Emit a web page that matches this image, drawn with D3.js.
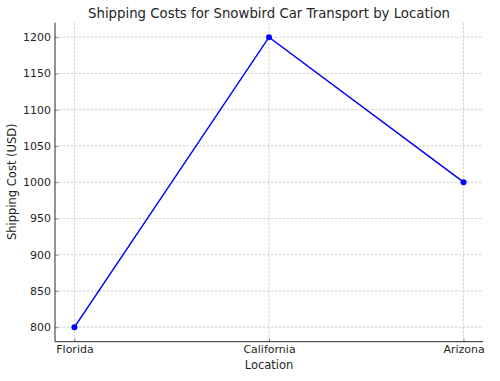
<!DOCTYPE html>
<html><head><meta charset="utf-8">
<script src="https://cdn.jsdelivr.net/npm/d3@7"></script>
<style>body{margin:0;background:#fff}svg{display:block}text{font-family:"DejaVu Sans",sans-serif;fill:#262626}</style>
</head><body><svg id="c" width="500" height="381"></svg>
<script>
const locations = ["Florida", "California", "Arizona"];
const costs = [800, 1200, 1000];
const yTicks = [800, 850, 900, 950, 1000, 1050, 1100, 1150, 1200];
const title = "Shipping Costs for Snowbird Car Transport by Location";
const xLabel = "Location";
const yLabel = "Shipping Cost (USD)";

const svg = d3.select("#c");
const L = 55, R = 483, T = 22.7, B = 341.7;
const x = d3.scaleLinear().domain([-0.1, 2.1]).range([L, R]);
const y = d3.scaleLinear().domain([780, 1220]).range([B, T]);

// grid
const g = svg.append("g");
g.selectAll(".hg").data(yTicks).join("line")
  .attr("x1", L).attr("x2", R).attr("y1", d => y(d)).attr("y2", d => y(d))
  .attr("stroke", "#b0b0b0").attr("stroke-width", 0.8).attr("stroke-dasharray", "2.5,1.5").attr("opacity", 0.7);
g.selectAll(".vg").data(locations).join("line")
  .attr("x1", (d, i) => x(i)).attr("x2", (d, i) => x(i)).attr("y1", T).attr("y2", B)
  .attr("stroke", "#b0b0b0").attr("stroke-width", 0.8).attr("stroke-dasharray", "2.5,1.5").attr("opacity", 0.7);

// axes (ticks pointing inward)
const yAxis = d3.axisLeft(y).tickValues(yTicks).tickFormat(d3.format("d")).tickSize(-3.5).tickPadding(4);
const ya = svg.append("g").attr("transform", `translate(${L},0)`).call(yAxis);
ya.select(".domain").remove();
ya.selectAll("line").attr("stroke", "#777").attr("stroke-width", 0.8);
ya.selectAll("text").style("font-size", "11px").style("font-family", "DejaVu Sans").attr("fill", "#1a1a1a");

const xAxis = d3.axisBottom(x).tickValues([0, 1, 2]).tickFormat(i => locations[i]).tickSize(-3.5).tickPadding(3.5);
const xa = svg.append("g").attr("transform", `translate(0,${B})`).call(xAxis);
xa.select(".domain").remove();
xa.selectAll("line").attr("stroke", "#777").attr("stroke-width", 0.8);
xa.selectAll("text").style("font-size", "11px").style("font-family", "DejaVu Sans").attr("fill", "#1a1a1a");

// spines
svg.append("line").attr("x1", L).attr("x2", L).attr("y1", T).attr("y2", B).attr("stroke", "#262626").attr("stroke-width", 1);
svg.append("line").attr("x1", L).attr("x2", R).attr("y1", B).attr("y2", B).attr("stroke", "#262626").attr("stroke-width", 1);

// line
const line = d3.line().x((d, i) => x(i)).y(d => y(d));
svg.append("path").datum(costs).attr("d", line).attr("fill", "none").attr("stroke", "#0000ff").attr("stroke-width", 1.5);
svg.selectAll(".pt").data(costs).join("circle")
  .attr("cx", (d, i) => x(i)).attr("cy", d => y(d)).attr("r", 3).attr("fill", "#0000ff");

// labels
svg.append("text").attr("x", (L + R) / 2).attr("y", 18).attr("text-anchor", "middle").style("font-size", "13.3px").text(title);
svg.append("text").attr("x", (L + R) / 2).attr("y", 369).attr("text-anchor", "middle").style("font-size", "11.5px").text(xLabel);
svg.append("text").attr("transform", `translate(16,${(T + B) / 2 - 0.5}) rotate(-90)`).attr("text-anchor", "middle").style("font-size", "11.5px").text(yLabel);
</script></body></html>
